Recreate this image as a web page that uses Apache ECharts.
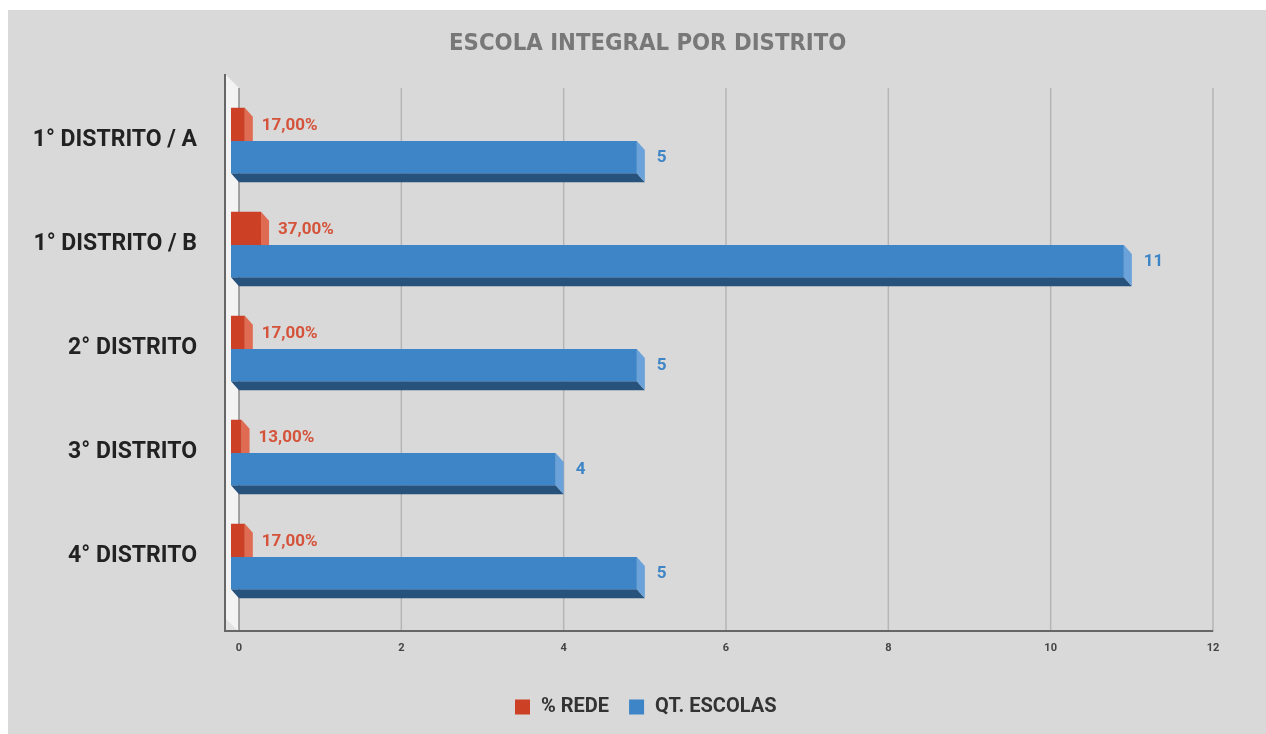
<!DOCTYPE html>
<html>
<head>
<meta charset="utf-8">
<script src="https://cdn.jsdelivr.net/npm/echarts@6/dist/echarts.min.js"></script>
<style>
html,body{margin:0;padding:0;background:#fff;}
#chart{width:1266px;height:734px;background:#d9d9d9;box-shadow:inset 8px 10px 0 0 #fff;}
</style>
</head>
<body>
<div id="chart"></div>
<script>
const categories = ['1° DISTRITO / A', '1° DISTRITO / B', '2° DISTRITO', '3° DISTRITO', '4° DISTRITO'];
const redeValues = [0.17, 0.37, 0.17, 0.13, 0.17];
const escolasValues = [5, 11, 5, 4, 5];
const xTicks = [0, 2, 4, 6, 8, 10, 12];
const seriesNames = ['% REDE', 'QT. ESCOLAS'];

const DX = 8, DY = 9;
const RED = {front: '#cc4125', side: '#de6b52', bottom: '#8e2d19', label: '#d5533a'};
const BLUE = {front: '#3d85c6', side: '#6aa2d9', bottom: '#27527c', label: '#3d85c6'};

function fmtPct(v) { return (v * 100).toFixed(2).replace('.', ',') + '%'; }

function barRender(pal, upper, fmt, gap) {
  return function (params, api) {
    const v = api.value(0);
    const cat = api.value(1);
    const end = api.coord([v, cat]);
    const start = api.coord([0, cat]);
    const band = api.size([0, 1])[1];
    const h = band * 0.31;
    const c = end[1];
    const yTop = upper ? c - h : c + 1;
    const yBot = upper ? c + 1 : c + 1 + h;
    const xb0 = start[0], xb1 = end[0];
    const xf0 = xb0 - DX, xf1 = xb1 - DX;
    return {
      type: 'group',
      children: [
        {type: 'polygon', shape: {points: [[xf0, yBot], [xf1, yBot], [xb1, yBot + DY], [xb0, yBot + DY]]}, style: {fill: pal.bottom}},
        {type: 'polygon', shape: {points: [[xf1, yTop], [xb1, yTop + DY], [xb1, yBot + DY], [xf1, yBot]]}, style: {fill: pal.side}},
        {type: 'rect', shape: {x: xf0, y: yTop, width: xf1 - xf0, height: yBot - yTop}, style: {fill: pal.front}},
        {type: 'text', style: {text: fmt(v), x: xb1 + gap, y: (yTop + yBot) / 2 + 1,
          fill: pal.label, font: 'bold 17px Roboto, sans-serif',
          textAlign: 'left', textVerticalAlign: 'middle', align: 'left', verticalAlign: 'middle'}}
      ]
    };
  };
}

function frameRender(params, api) {
  const cs = params.coordSys;
  const top = cs.y, bottom = cs.y + cs.height + 24;
  const left = cs.x;
  const children = [];
  children.push({type: 'polygon', shape: {points: [[left - 14, top - 14], [left, top], [left, bottom], [left - 14, bottom]]}, style: {fill: '#f3f3f3'}});
  children.push({type: 'polygon', shape: {points: [[left - 14, bottom - 14], [left, bottom], [left - 14, bottom]]}, style: {fill: '#e2e2e2'}});
  xTicks.forEach(function (t) {
    const x = api.coord([t, 0])[0];
    children.push({type: 'line', shape: {x1: x, y1: top, x2: x, y2: bottom}, style: {stroke: t === 0 ? '#8a8a8a' : '#b5b5b5', lineWidth: 1.5}});
  });
  children.push({type: 'line', shape: {x1: left - 14, y1: top - 14, x2: left - 14, y2: bottom}, style: {stroke: '#666', lineWidth: 2}});
  children.push({type: 'line', shape: {x1: left - 14, y1: bottom - 1, x2: cs.x + cs.width, y2: bottom - 1}, style: {stroke: '#666', lineWidth: 2}});
  return {type: 'group', children: children};
}

const chart = echarts.init(document.getElementById('chart'));
chart.setOption({
  backgroundColor: 'transparent',
  animation: false,
  title: {
    text: 'ESCOLA INTEGRAL POR DISTRITO',
    left: 444, top: 27,
    textStyle: {fontFamily: '"Liberation Sans Narrow", "DejaVu Sans Condensed", Roboto, sans-serif', fontWeight: 'bold', fontSize: 23.7, color: '#787878'}
  },
  legend: {
    bottom: 12, left: 510,
    data: seriesNames,
    icon: 'rect', itemWidth: 15, itemHeight: 15, itemGap: 20,
    textStyle: {fontFamily: 'Roboto, sans-serif', fontWeight: 'bold', fontSize: 20, color: '#333', padding: [0, 0, 0, 6]}
  },
  grid: {left: 239, right: 53, top: 88, bottom: 126, containLabel: false},
  xAxis: {
    type: 'value', min: 0, max: 12, interval: 2,
    offset: 24,
    axisLine: {show: false},
    axisTick: {show: false},
    splitLine: {show: false},
    axisLabel: {margin: 11, fontSize: 11, color: '#444', fontFamily: 'Roboto, sans-serif', fontWeight: 'bold'}
  },
  yAxis: {
    type: 'category', data: categories, inverse: true,
    offset: 14,
    axisLine: {show: false},
    axisTick: {show: true, alignWithLabel: true, length: 14, lineStyle: {color: '#444', width: 1.5}},
    axisLabel: {margin: 28, fontSize: 23, color: '#222', fontWeight: 'bold', fontFamily: 'Roboto, sans-serif'}
  },
  series: [
    {type: 'custom', name: 'frame', silent: true, z: 1, data: [[0, 0]], encode: {x: 0, y: 1}, renderItem: frameRender},
    {type: 'custom', name: seriesNames[0], z: 3, itemStyle: {color: RED.front},
      data: redeValues.map(function (v, i) { return [v, i]; }), encode: {x: 0, y: 1},
      renderItem: barRender(RED, true, fmtPct, 9)},
    {type: 'custom', name: seriesNames[1], z: 4, itemStyle: {color: BLUE.front},
      data: escolasValues.map(function (v, i) { return [v, i]; }), encode: {x: 0, y: 1},
      renderItem: barRender(BLUE, false, function (v) { return String(v); }, 12)}
  ]
});
</script>
</body>
</html>
